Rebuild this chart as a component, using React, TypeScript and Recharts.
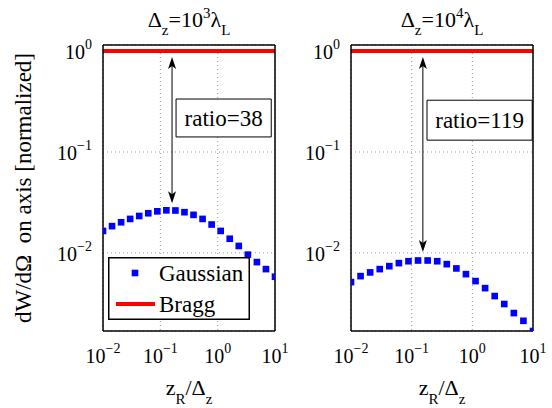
import React from 'react';
import {
  ComposedChart,
  Scatter,
  Line,
  XAxis,
  YAxis,
  ZAxis,
  CartesianGrid,
  Legend,
  ReferenceArea,
  ReferenceLine,
} from 'recharts';

const FONT = '"Liberation Serif", "Times New Roman", serif';

// z_R / Delta_z sample points (log spaced from 1e-2 to 1e1)
const zR = [
  0.01, 0.01438, 0.02069, 0.02976, 0.04281, 0.06158, 0.08859, 0.1274, 0.1833, 0.2637,
  0.3793, 0.5456, 0.7848, 1.129, 1.624, 2.336, 3.36, 4.833, 6.952, 10,
];

// Gaussian, Delta_z = 1e3 lambda_L
const gauss1e3 = [
  0.0165, 0.0184, 0.0201, 0.0217, 0.0232, 0.0247, 0.0258, 0.0264, 0.0263, 0.0253,
  0.0238, 0.0217, 0.0191, 0.0165, 0.0138, 0.0117, 0.0096, 0.0081, 0.0069, 0.0058,
];

// Gaussian, Delta_z = 1e4 lambda_L
const gauss1e4 = [
  0.00513, 0.00588, 0.0064, 0.0069, 0.00738, 0.00791, 0.00826, 0.0084, 0.0084, 0.00826,
  0.00773, 0.00701, 0.00615, 0.00525, 0.00447, 0.00373, 0.00311, 0.00253, 0.00212, 0.00168,
];

// Bragg (normalized)
const bragg = [1, 1, 1, 1, 1, 1, 1, 1, 1, 1, 1, 1, 1, 1, 1, 1, 1, 1, 1, 1];

const legendOrder = ['Gaussian', 'Bragg'];
const ratioLabels = ['ratio=38', 'ratio=119'];
const arrowX = [0.16, 0.153];
const arrowTop = [0.875, 0.875];
const arrowBottom = [0.031, 0.0102];
const boxX = [[0.188, 8.6], [0.179, 9.7]];
const boxY = [[0.141, 0.335], [0.131, 0.326]];

const X_DOMAIN = [0.01, 10];
const Y_DOMAIN = [0.00168, 1.15];
const X_MAJOR = [0.01, 0.1, 1, 10];
const Y_MAJOR = [0.01, 0.1, 1];
const X_ALL = [0.01, 0.1, 1].flatMap(d => [1, 2, 3, 4, 5, 6, 7, 8, 9].map(k => +(k * d).toPrecision(3))).concat(10);
const Y_ALL = [0.001, 0.01, 0.1, 1].flatMap(d => [1, 2, 3, 4, 5, 6, 7, 8, 9].map(k => +(k * d).toPrecision(3)))
  .filter(v => v >= Y_DOMAIN[0] && v <= Y_DOMAIN[1]);

const FRAME = { stroke: '#000', strokeWidth: 1.5 };
const TICK_LINE = { stroke: '#000', strokeWidth: 1 };

const PowerTick = (props: any) => {
  const { x, y, payload, axis } = props;
  const exp = Math.round(Math.log10(payload.value));
  const sup = exp < 0 ? `\u2212${-exp}` : `${exp}`;
  if (axis === 'x') {
    return (
      <text x={x} y={y + 32} textAnchor="middle" fontFamily={FONT} fontSize={20} fill="#000">
        10<tspan dy={-10} fontSize={14}>{sup}</tspan>
      </text>
    );
  }
  return (
    <text x={x - 11} y={y + 8} textAnchor="end" fontFamily={FONT} fontSize={20} fill="#000">
      10<tspan dy={-10} fontSize={14}>{sup}</tspan>
    </text>
  );
};

const DoubleArrow = (props: any) => {
  const { x1, y1, y2 } = props;
  const top = Math.min(y1, y2);
  const bot = Math.max(y1, y2);
  return (
    <g>
      <line x1={x1} y1={top + 6} x2={x1} y2={bot - 6} stroke="#000" strokeWidth={1} />
      <path d={`M${x1},${top} L${x1 + 4},${top + 12} L${x1},${top + 9} L${x1 - 4},${top + 12} Z`} fill="#000" />
      <path d={`M${x1},${bot} L${x1 + 4},${bot - 12} L${x1},${bot - 9} L${x1 - 4},${bot - 12} Z`} fill="#000" />
    </g>
  );
};

const LegendBox = (props: any) => {
  const payload = [...(props.payload || [])].sort(
    (a: any, b: any) => legendOrder.indexOf(a.value) - legendOrder.indexOf(b.value)
  );
  return (
    <svg width={142} height={63} style={{ display: 'block' }}>
      <rect x={0.75} y={0.75} width={140.5} height={61.5} fill="#fff" stroke="#000" strokeWidth={1.5} />
      {payload.map((e: any, i: number) => {
        const cy = 16 + i * 31;
        return (
          <g key={i}>
            {e.type === 'square' ? (
              <rect x={27 - 3.3} y={cy - 3.3} width={6.6} height={6.6} fill={e.color} />
            ) : (
              <line x1={8} x2={47} y1={cy} y2={cy} stroke={e.color} strokeWidth={4} />
            )}
            <text x={51} y={cy + 8} fontFamily={FONT} fontSize={23} fill="#000">{e.value}</text>
          </g>
        );
      })}
    </svg>
  );
};

interface PanelProps {
  gauss: number[];
  idx: number;
  width: number;
  yAxisWidth: number;
  margin: { top: number; right: number; bottom: number; left: number };
  showLegend: boolean;
}

const Panel: React.FC<PanelProps> = ({ gauss, idx, width, yAxisWidth, margin, showLegend }) => {
  const gaussRows = zR.map((x, i) => ({ x, y: gauss[i] }));
  const braggRows = zR.map((x, i) => ({ x, y: bragg[i] }));
  return (
    <ComposedChart width={width} height={408} margin={margin} style={{ fontFamily: FONT }}>
      <CartesianGrid stroke="#999" strokeDasharray="1 3" />
      <XAxis dataKey="x" type="number" scale="log" domain={X_DOMAIN} ticks={X_MAJOR} interval={0}
        tick={<PowerTick axis="x" />} tickLine={false} tickSize={0} tickMargin={0} axisLine={FRAME}
        height={50} allowDataOverflow />
      <XAxis xAxisId="bm" type="number" scale="log" domain={X_DOMAIN} ticks={X_ALL} interval={0}
        tick={false} tickSize={4} tickLine={TICK_LINE} axisLine={false} mirror allowDataOverflow />
      <XAxis xAxisId="tm" orientation="top" type="number" scale="log" domain={X_DOMAIN} ticks={X_ALL} interval={0}
        tick={false} tickSize={4} tickLine={TICK_LINE} axisLine={FRAME} mirror allowDataOverflow />
      <YAxis dataKey="y" type="number" scale="log" domain={Y_DOMAIN} ticks={Y_MAJOR} interval={0}
        tick={<PowerTick axis="y" />} tickLine={false} tickSize={0} tickMargin={0} axisLine={FRAME}
        width={yAxisWidth} allowDataOverflow />
      <YAxis yAxisId="lm" type="number" scale="log" domain={Y_DOMAIN} ticks={Y_ALL} interval={0}
        tick={false} tickSize={4} tickLine={TICK_LINE} axisLine={false} mirror allowDataOverflow />
      <YAxis yAxisId="rm" orientation="right" type="number" scale="log" domain={Y_DOMAIN} ticks={Y_ALL} interval={0}
        tick={false} tickSize={4} tickLine={TICK_LINE} axisLine={FRAME} mirror allowDataOverflow />
      <ZAxis range={[44, 44]} />
      <ReferenceArea x1={boxX[idx][0]} x2={boxX[idx][1]} y1={boxY[idx][0]} y2={boxY[idx][1]}
        fill="#fff" fillOpacity={1} stroke="#000" strokeWidth={1}
        label={{ value: ratioLabels[idx], position: 'center', fontSize: 23, fontFamily: FONT, fill: '#000' }} />
      <ReferenceLine segment={[{ x: arrowX[idx], y: arrowTop[idx] }, { x: arrowX[idx], y: arrowBottom[idx] }]}
        shape={DoubleArrow} />
      <Scatter name="Gaussian" data={gaussRows} fill="#0000ff" shape="square" legendType="square"
        isAnimationActive={false} />
      <Line name="Bragg" data={braggRows} dataKey="y" stroke="#ff0000" strokeWidth={4} dot={false}
        activeDot={false} legendType="line" isAnimationActive={false} />
      {showLegend && (
        <Legend layout="vertical" align="center" verticalAlign="middle" content={<LegendBox />}
          wrapperStyle={{ left: 108, top: 257, width: 142, height: 63 }} />
      )}
    </ComposedChart>
  );
};

const Title = ({ x, exp }: { x: number; exp: string }) => (
  <text x={x} y={27} textAnchor="middle" fontFamily={FONT} fontSize={22} fill="#000">
    Δ<tspan dy={8} fontSize={15}>z</tspan>
    <tspan dy={-8}>=10</tspan>
    <tspan dy={-9} fontSize={15}>{exp}</tspan>
    <tspan dy={9}>λ</tspan>
    <tspan dy={8} fontSize={15}>L</tspan>
  </text>
);

const XLabel = ({ x }: { x: number }) => (
  <text x={x} y={395} textAnchor="middle" fontFamily={FONT} fontSize={22} fill="#000">
    z<tspan dy={9} fontSize={15}>R</tspan>
    <tspan dy={-9}>/Δ</tspan>
    <tspan dy={9} fontSize={15}>z</tspan>
  </text>
);

export default function App() {
  return (
    <div style={{ position: 'absolute', left: 0, top: 0, width: 552, height: 408, background: '#fff' }}>
      <div style={{ position: 'absolute', left: 0, top: 0 }}>
        <Panel gauss={gauss1e3} idx={0} width={300} yAxisWidth={90}
          margin={{ top: 45, right: 25, bottom: 27, left: 13 }} showLegend />
      </div>
      <div style={{ position: 'absolute', left: 276, top: 0 }}>
        <Panel gauss={gauss1e4} idx={1} width={276} yAxisWidth={60}
          margin={{ top: 45, right: 19, bottom: 27, left: 15 }} showLegend={false} />
      </div>
      <svg width={552} height={408} style={{ position: 'absolute', left: 0, top: 0, pointerEvents: 'none' }}>
        <Title x={189} exp="3" />
        <Title x={442} exp="4" />
        <XLabel x={189} />
        <XLabel x={442} />
        <text x={31} y={188} transform="rotate(-90, 31, 188)" textAnchor="middle" fontFamily={FONT}
          fontSize={23} fill="#000" style={{ whiteSpace: 'pre' }}>
          {'dW/dΩ  on axis [normalized]'}
        </text>
      </svg>
    </div>
  );
}
